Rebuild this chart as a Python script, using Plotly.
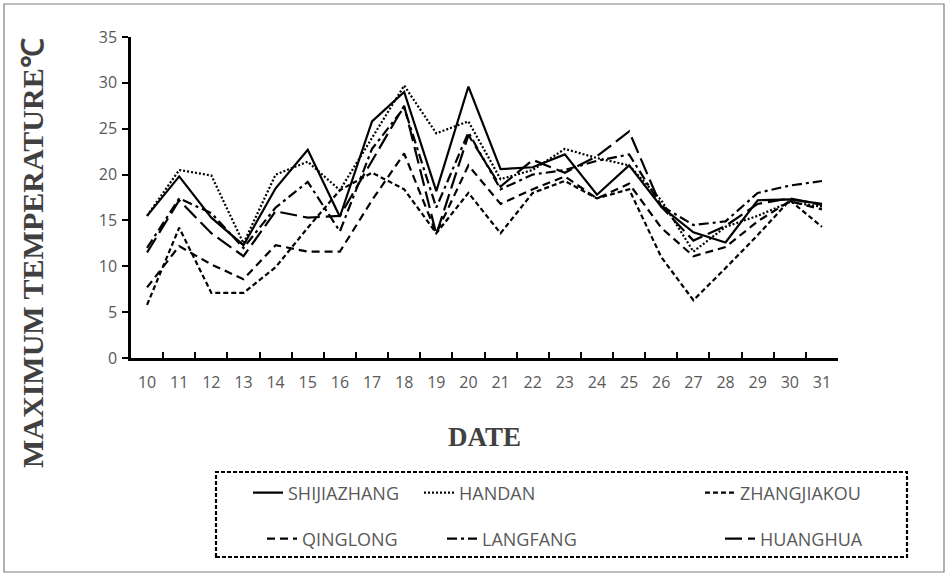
import plotly.graph_objects as go

dates = [str(d) for d in range(10, 32)]
shijiazhang = [15.5, 19.8, 15.3, 12.3, 18.5, 22.7, 15.4, 25.8, 29.0, 18.2, 29.6, 20.6, 20.8, 22.2, 17.8, 21.0, 16.5, 13.7, 12.6, 17.2, 17.3, 16.8]
handan = [15.5, 20.5, 19.9, 12.5, 20.0, 21.4, 18.3, 24.0, 29.7, 24.5, 25.8, 19.5, 20.5, 22.8, 21.8, 21.0, 17.2, 11.6, 14.3, 15.5, 17.0, 16.5]
zhangjiakou = [5.8, 14.2, 7.1, 7.1, 9.9, 14.2, 18.3, 20.2, 18.4, 13.6, 18.0, 13.6, 18.0, 19.3, 17.4, 18.4, 11.0, 6.3, 9.8, 13.4, 17.2, 14.3]
qinglong = [7.7, 12.2, 10.2, 8.6, 12.3, 11.6, 11.6, 17.2, 22.3, 13.6, 21.0, 16.8, 18.4, 19.8, 17.4, 19.0, 14.2, 11.1, 12.1, 14.9, 17.1, 16.2]
langfang = [12.0, 17.4, 15.8, 12.0, 16.4, 19.2, 13.8, 22.8, 27.3, 16.4, 24.6, 18.4, 20.0, 20.5, 21.5, 22.2, 16.6, 14.5, 14.9, 18.0, 18.8, 19.3]
huanghua = [11.5, 17.2, 13.6, 11.1, 16.0, 15.3, 15.5, 21.5, 27.5, 13.5, 24.3, 18.7, 21.6, 20.2, 22.0, 24.7, 16.5, 12.8, 14.4, 16.8, 17.4, 16.7]
y_ticks = [0, 5, 10, 15, 20, 25, 30, 35]

series = [
    ("SHIJIAZHANG", shijiazhang, "solid"),
    ("HANDAN", handan, "2px,2px"),
    ("ZHANGJIAKOU", zhangjiakou, "5px,3px"),
    ("QINGLONG", qinglong, "8px,5px"),
    ("LANGFANG", langfang, "10px,4px,3px,4px"),
    ("HUANGHUA", huanghua, "17px,6px"),
]

# plot area in pixels
L, R, T, B = 131, 838, 37, 358
W, H = 948, 576
def px(x):
    return (x - L) / (R - L)
def py(y):
    return (B - y) / (B - T)

# legend item positions (px) for the six entries
leg_pos = [(248, 493), (419, 493), (700, 493), (262, 539), (442, 539), (720, 539)]

fig = go.Figure()
for i, (name, vals, dash) in enumerate(series):
    lname = "legend" if i == 0 else f"legend{i+1}"
    fig.add_trace(go.Scatter(x=dates, y=vals, name=name, mode="lines",
                             line=dict(color="black", width=2.2, dash=dash),
                             legend=lname))

font_tick = dict(family="Open Sans", size=16, color="#595959")
layout_legends = {}
for i, (lx, ly) in enumerate(leg_pos):
    lname = "legend" if i == 0 else f"legend{i+1}"
    layout_legends[lname] = dict(x=px(lx), y=py(ly), xanchor="left", yanchor="middle",
                                 orientation="h", font=dict(family="Open Sans", size=18, color="#595959"),
                                 bgcolor="rgba(0,0,0,0)", borderwidth=0)

fig.update_layout(
    width=W, height=H,
    margin=dict(l=L, r=W - R, t=T, b=H - B),
    plot_bgcolor="white", paper_bgcolor="white",
    showlegend=True,
    **layout_legends,
    xaxis=dict(type="category", range=[-0.5, len(dates) - 0.5], showline=True, linecolor="black", linewidth=2.5,
               ticks="inside", tickson="boundaries", ticklen=6, tickwidth=2, tickcolor="black",
               tickfont=font_tick, showgrid=False, zeroline=False, ticklabelstandoff=8),
    yaxis=dict(range=[0, 35], tickvals=y_ticks, showline=True, linecolor="black", linewidth=2.5,
               ticks="outside", ticklen=6, tickwidth=2, tickcolor="black",
               tickfont=font_tick, showgrid=False, zeroline=False, ticklabelstandoff=2),
    annotations=[
        dict(text="<b>DATE</b>", x=0.5, y=py(437), xref="paper", yref="paper", showarrow=False,
             font=dict(family="Liberation Serif", size=27, color="#404040"), xanchor="center", yanchor="middle"),
        dict(text="<b>MAXIMUM TEMPERATURE℃</b>", x=px(32), y=py(253), xref="paper", yref="paper",
             showarrow=False, textangle=-90,
             font=dict(family="Liberation Serif", size=30, color="#404040"), xanchor="center", yanchor="middle"),
    ],
    shapes=[
        dict(type="rect", xref="paper", yref="paper", x0=px(4), x1=px(944), y0=py(572), y1=py(4),
             line=dict(color="#7f7f7f", width=1.2)),
        dict(type="rect", xref="paper", yref="paper", x0=px(216), x1=px(907), y0=py(557), y1=py(472),
             line=dict(color="black", width=2.2, dash="4px,2px")),
    ],
)

fig.write_html("out.html", config={"displayModeBar": False},
               post_script="document.body.style.margin='0px';")
